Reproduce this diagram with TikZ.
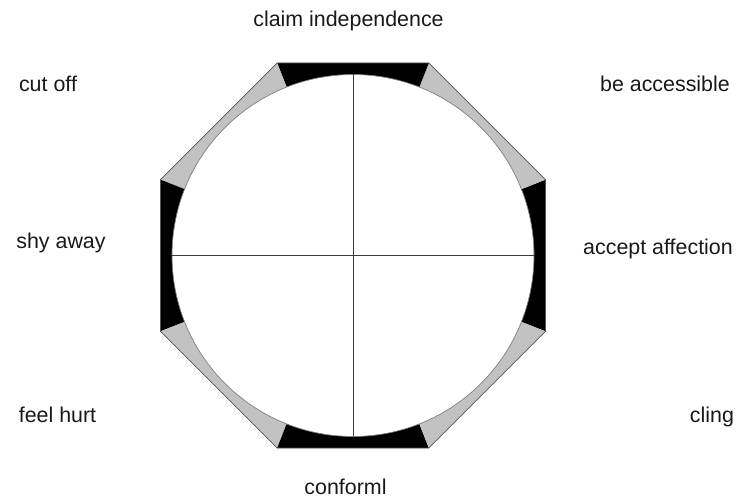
\documentclass[tikz,border=0pt]{standalone}
\usepackage{fontspec}
\setmainfont{Liberation Sans}
\usepackage{tikz}
\usepackage{xcolor}
\usetikzlibrary{positioning, calc}
\definecolor{ringShade}{HTML}{C2C2C2}
\definecolor{ringEdge} {HTML}{555555}
\definecolor{crossLine}{HTML}{3A3A3A}

\begin{document}
\begin{tikzpicture}[x=1pt, y=1pt,
    tag/.style={anchor=base, inner sep=0pt, font=\fontsize{21.4}{24}\selectfont, text=black!90},
    wedge/.style={draw=ringEdge, line width=0.7pt, line join=miter}]
  \useasboundingbox (-353,-244.5) rectangle (389,255.5);
  \coordinate (mid) at (0,0);
  % rim between the octagon and the circle, one piece per side
  \foreach \a/\b/\shade in
    {-21.5/21.5/black, 21.5/68.5/ringShade, 68.5/111.5/black, 111.5/158.5/ringShade,
     158.5/201.5/black, 201.5/248.5/ringShade, 248.5/291.5/black, 291.5/338.5/ringShade}{
    \fill[\shade] (\a:207pt) -- (\b:207pt) -- (\b:181pt)
      arc[start angle=\b, end angle=\a, radius=181pt] -- cycle;
  }
  \draw[wedge] (21.5:207pt) \foreach \a in {68.5,111.5,158.5,201.5,248.5,291.5,338.5}{ -- (\a:207pt)} -- cycle;
  \draw[draw=gray, line width=0.7pt] (mid) circle[radius=181pt];
  % cross
  \draw[crossLine, line width=0.8pt] (mid) ++(0,181) -- ++(0,-362);
  \draw[crossLine, line width=0.8pt] (mid) ++(-181,0) -- ++(362,0);
  % labels
  \foreach \x/\y/\name/\txt in
    {-4.5/228.5/claim/claim independence, 312/163.5/access/be accessible,
     305/0.5/affect/accept affection, 359/-167.5/cling/cling,
     -7.5/-239.5/conform/conforml, -295.5/-167.5/hurt/feel hurt,
     -292/7/shy/shy away, -305/163.5/cut/cut off}{
    \node[tag] (\name) at (\x,\y) {\txt};
  }
\end{tikzpicture}
\end{document}
